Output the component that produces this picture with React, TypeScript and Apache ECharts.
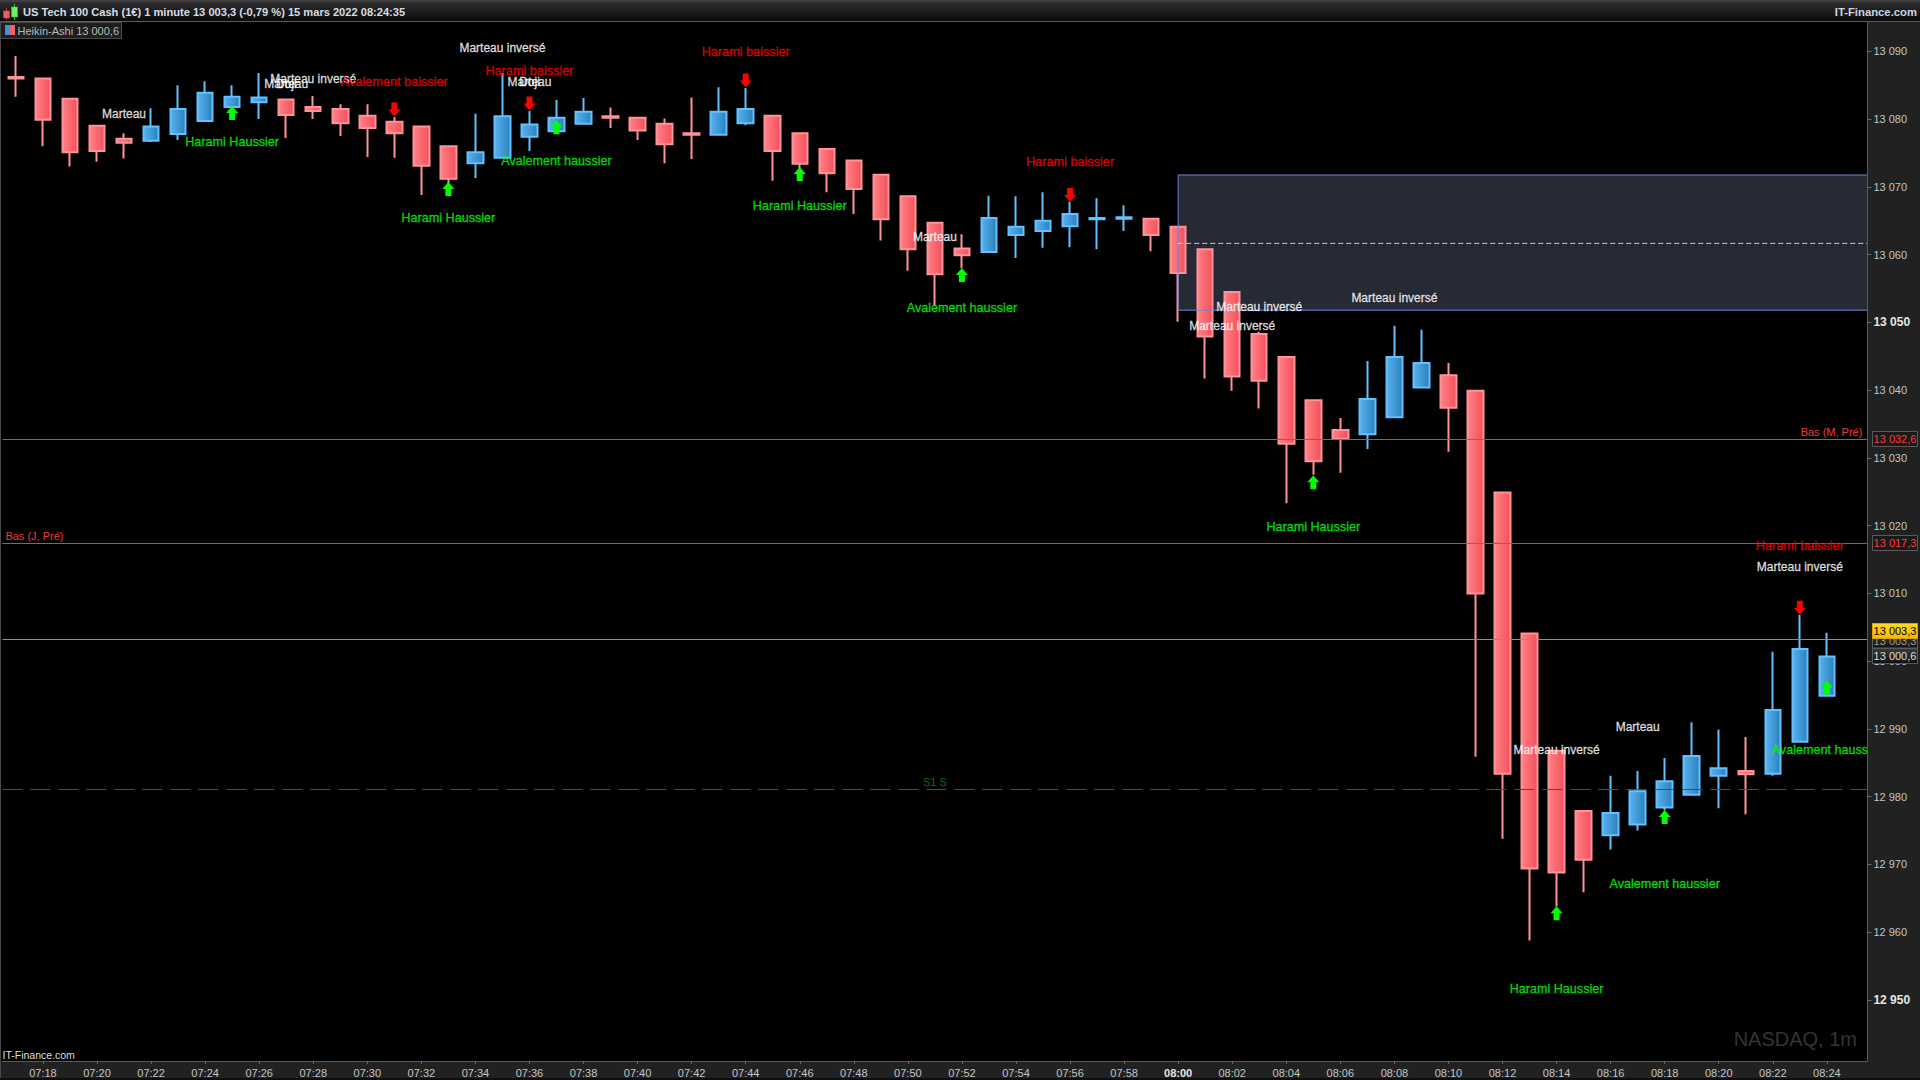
import React, { useEffect, useRef } from "react";
import * as echarts from "echarts";

const times = [
  "07:17","07:18","07:19","07:20","07:21","07:22","07:23","07:24","07:25","07:26","07:27","07:28","07:29","07:30","07:31","07:32","07:33",
  "07:34","07:35","07:36","07:37","07:38","07:39","07:40","07:41","07:42","07:43","07:44","07:45","07:46","07:47","07:48","07:49","07:50",
  "07:51","07:52","07:53","07:54","07:55","07:56","07:57","07:58","07:59","08:00","08:01","08:02","08:03","08:04","08:05","08:06","08:07",
  "08:08","08:09","08:10","08:11","08:12","08:13","08:14","08:15","08:16","08:17","08:18","08:19","08:20","08:21","08:22","08:23","08:24","08:25",
];
const opens = [
  13086.2,13086.0,13083.0,13079.0,13077.1,13076.8,13077.8,13079.7,13081.8,13082.5,13082.9,13081.8,13081.5,13080.5,13079.6,13078.9,13076.0,
  13073.5,13074.3,13077.4,13078.2,13079.3,13080.4,13080.2,13079.3,13077.9,13077.7,13079.4,13080.5,13077.9,13075.6,13073.9,13071.8,13068.6,
  13064.7,13060.9,13060.4,13062.9,13063.5,13064.2,13065.2,13065.3,13065.3,13064.1,13060.8,13054.5,13048.3,13044.9,13038.5,13034.1,13033.5,
  13036.0,13040.4,13042.2,13039.9,13024.9,13004.1,12986.8,12977.9,12974.3,12975.9,12978.4,12980.3,12983.1,12983.8,12983.4,12988.1,12994.9,
];
const closes = [
  13086.0,13079.9,13075.1,13075.3,13076.5,13078.9,13081.5,13083.9,13083.3,13083.2,13080.6,13081.2,13079.4,13078.7,13077.9,13073.1,13071.2,
  13075.1,13080.4,13079.2,13080.2,13081.1,13080.2,13078.3,13076.3,13077.7,13081.1,13081.5,13075.3,13073.4,13072.0,13069.7,13065.2,13060.8,
  13057.1,13059.9,13065.4,13064.1,13065.0,13066.0,13065.4,13065.5,13062.9,13057.3,13047.9,13042.0,13041.4,13032.1,13029.5,13032.8,13038.7,
  13044.9,13044.0,13037.4,13010.0,12983.4,12969.4,12968.8,12970.7,12977.6,12980.8,12982.3,12986.0,12984.2,12983.3,12992.8,13001.8,13000.7,
];
const lows = [
  13083.3,13076.0,13073.0,13073.7,13074.2,13076.6,13076.9,13079.7,13081.0,13080.0,13077.2,13080.0,13077.5,13074.4,13074.3,13068.8,13070.4,
  13071.3,13074.3,13075.3,13078.0,13079.3,13078.7,13076.9,13073.5,13074.1,13077.7,13079.1,13070.9,13072.7,13069.2,13066.0,13062.1,13057.6,
  13052.5,13058.0,13060.4,13059.5,13061.0,13061.1,13060.8,13063.5,13060.5,13050.1,13041.7,13039.9,13037.3,13023.3,13027.5,13027.8,13031.3,
  13036.0,13040.4,13030.9,12985.9,12973.8,12958.8,12963.8,12965.9,12972.2,12975.0,12978.0,12980.3,12978.3,12977.4,12983.1,12988.1,12994.9,
];
const highs = [
  13089.3,13086.0,13083.0,13079.0,13077.9,13081.6,13085.0,13085.6,13085.0,13086.8,13082.9,13083.4,13082.2,13082.2,13080.3,13078.9,13076.0,
  13080.8,13086.8,13081.2,13082.8,13083.1,13081.7,13080.2,13080.1,13083.2,13084.7,13084.6,13080.5,13077.9,13075.6,13073.9,13071.8,13068.6,
  13064.7,13063.0,13068.7,13068.6,13069.2,13067.8,13068.3,13067.3,13065.3,13064.1,13060.8,13054.5,13048.6,13044.9,13038.5,13035.9,13044.3,
  13049.5,13048.9,13044.0,13039.9,13024.9,13004.1,12986.8,12977.9,12983.1,12983.8,12985.7,12991.0,12989.9,12988.8,13001.4,13006.8,13004.2,
];

const yTicks = [13090,13080,13070,13060,13050,13040,13030,13020,13010,13000,12990,12980,12970,12960,12950];
const yBoldTicks = [13050, 12950];

const whiteNotes: [number, number, string][] = [
  [4, 13080.85, "Marteau"],
  [18, 13090.6, "Marteau inversé"],
  [10, 13085.3, "Marteau"],
  [10, 13085.3, "Doji"],
  [11, 13086.0, "Marteau inversé"],
  [19, 13085.6, "Marteau"],
  [19, 13085.6, "Doji"],
  [34, 13062.7, "Marteau"],
  [46, 13052.4, "Marteau inversé"],
  [45, 13049.6, "Marteau inversé"],
  [51, 13053.8, "Marteau inversé"],
  [57, 12987.0, "Marteau inversé"],
  [60, 12990.5, "Marteau"],
  [66, 13014.0, "Marteau inversé"],
];
const redNotes: [number, number, string][] = [
  [14, 13085.6, "Avalement baissier"],
  [19, 13087.2, "Harami baissier"],
  [27, 13090.0, "Harami baissier"],
  [39, 13073.8, "Harami baissier"],
  [66, 13017.1, "Harami baissier"],
];
const greenNotes: [number, number, string][] = [
  [8, 13076.7, "Harami Haussier"],
  [16, 13065.5, "Harami Haussier"],
  [20, 13074.0, "Avalement haussier"],
  [29, 13067.3, "Harami Haussier"],
  [35, 13052.3, "Avalement haussier"],
  [48, 13019.9, "Harami Haussier"],
  [57, 12951.7, "Harami Haussier"],
  [61, 12967.2, "Avalement haussier"],
  [67, 12987.0, "Avalement haussier"],
];
const upArrows = [
  [8, 13080.9],[16, 13069.7],[20, 13078.8],[29, 13071.9],[35, 13057.0],[48, 13026.4],[57, 12962.8],[61, 12977.0],[67, 12996.1],
];
const downArrows = [
  [14, 13081.4],[19, 13082.3],[27, 13085.7],[39, 13068.8],[66, 13007.9],
];
const zone = [[43, 13071.75, 13051.8, 13061.66]];
const levelLowMonth = 13032.7;
const levelLowDay = 13017.4;
const levelLast = 13003.3;
const levelS1 = 12981.1;

const FONT = '"Liberation Sans", Arial, sans-serif';
const UP_PATH = "path://M6 0 L12 7 L9 7 L9 14 L3 14 L3 7 L0 7 Z";
const DOWN_PATH = "path://M3 0 L9 0 L9 7 L12 7 L6 14 L0 7 L3 7 Z";

function noteSeries(notes: [number, number, string][], color: string, size: number) {
  return {
    type: "scatter",
    z: 4,
    symbolSize: 1,
    silent: true,
    itemStyle: { color: "transparent" },
    data: notes.map((n) => ({
      value: [n[0], n[1]],
      label: {
        show: true,
        position: "inside",
        offset: [0, 1],
        formatter: n[2],
        color,
        fontFamily: FONT,
        fontSize: size,
        align: "center",
        verticalAlign: "middle",
        textBorderColor: color,
        textBorderWidth: 0.3,
      },
    })),
  };
}

function arrowSeries(points: number[][], symbol: string, color: string) {
  return {
    type: "scatter",
    z: 3,
    symbol,
    symbolSize: [12, 14],
    silent: true,
    itemStyle: { color, opacity: 1 },
    data: points,
  };
}

function tag(y: number, h: number, label: string, fill: any, color: string, stroke: string, z: number) {
  return [
    { type: "rect", z, shape: { x: 1872.5, y, width: 45, height: h }, style: { fill, stroke, lineWidth: 1 } },
    {
      type: "text",
      z: z + 1,
      x: 1895,
      y: y + h / 2,
      style: { text: label, fill: color, font: `11px ${FONT}`, textAlign: "center", textVerticalAlign: "middle" },
    },
  ];
}

export default function App() {
  const ref = useRef<HTMLDivElement>(null);
  useEffect(() => {
    document.body.style.margin = "0";
    document.body.style.background = "#000";
    document.body.style.overflow = "hidden";
    const chart = echarts.init(ref.current!, null, { renderer: "svg" });
    const LG = echarts.graphic.LinearGradient;
    const redFill = new LG(0, 0, 1, 0, [
      { offset: 0, color: "#ff8086" },
      { offset: 1, color: "#f5505a" },
    ]);
    const blueFill = new LG(0, 0, 1, 0, [
      { offset: 0, color: "#58b2ef" },
      { offset: 1, color: "#2a80bd" },
    ]);
    const darkTag = new LG(0, 0, 0, 1, [
      { offset: 0, color: "#3a3a3a" },
      { offset: 1, color: "#111111" },
    ]);
    const yellowTag = new LG(0, 0, 0, 1, [
      { offset: 0, color: "#ffd92a" },
      { offset: 1, color: "#f5b800" },
    ]);
    const topBar = new LG(0, 0, 0, 1, [
      { offset: 0, color: "#454545" },
      { offset: 0.15, color: "#2c2c2c" },
      { offset: 1, color: "#0a0a0a" },
    ]);
    const isLabelled = (i: number) => i % 2 === 1;
    const option: any = {
      animation: false,
      backgroundColor: "#000000",
      grid: { left: 2.4, top: 21.5, width: 1865, height: 1039.5, containLabel: false },
      xAxis: {
        type: "category",
        data: times,
        z: 10,
        boundaryGap: true,
        axisLine: { lineStyle: { color: "#5a5a5a", width: 1 } },
        axisTick: { show: true, length: 3, alignWithLabel: true, interval: isLabelled, lineStyle: { color: "#6a6a6a" } },
        axisLabel: {
          interval: isLabelled,
          margin: 6,
          fontFamily: FONT,
          fontSize: 11,
          color: "#c4c4c4",
          formatter: (v: string) => (v === "08:00" ? `{b|${v}}` : v),
          rich: { b: { fontFamily: FONT, fontSize: 11, fontWeight: "bold", color: "#e6e6e6" } },
        },
        splitLine: { show: false },
      },
      yAxis: {
        type: "value",
        position: "right",
        min: 12941.0,
        max: 13094.4,
        z: 10,
        scale: true,
        axisLine: { show: true, lineStyle: { color: "#5a5a5a", width: 1 } },
        axisTick: { show: true, length: 4, customValues: yTicks, lineStyle: { color: "#6a6a6a" } },
        axisLabel: {
          customValues: yTicks,
          margin: 6,
          fontFamily: FONT,
          fontSize: 11,
          color: "#c4c4c4",
          formatter: (v: number) => {
            const s = String(Math.round(v));
            const t = s.slice(0, 2) + " " + s.slice(2);
            return yBoldTicks.includes(Math.round(v)) ? `{b|${t}}` : t;
          },
          rich: { b: { fontFamily: FONT, fontSize: 12, fontWeight: "bold", color: "#e6e6e6" } },
        },
        splitLine: { show: false },
      },
      series: [
        {
          type: "custom",
          z: 1,
          silent: true,
          encode: { x: 0, y: 1 },
          data: zone,
          renderItem: (params: any, api: any) => {
            const a = api.coord([api.value(0), api.value(1)]);
            const b = api.coord([api.value(0), api.value(2)]);
            const right = params.coordSys.x + params.coordSys.width;
            return {
              type: "rect",
              shape: { x: a[0], y: a[1], width: right - a[0], height: b[1] - a[1] },
              style: { fill: "#252a35" },
            };
          },
        },
        {
          type: "candlestick",
          z: 2,
          silent: true,
          barWidth: 16,
          data: opens.map((o, i) => [o, closes[i], lows[i], highs[i]]),
          itemStyle: {
            color: blueFill,
            color0: redFill,
            borderColor: "#62c1ff",
            borderColor0: "#ff939a",
            borderWidth: 2,
          },
          markLine: {
            silent: true,
            symbol: "none",
            animation: false,
            z: 4,
            data: [
              {
                yAxis: levelLowMonth,
                lineStyle: { color: "#e83c3c", width: 1, type: "solid" },
                label: { show: true, formatter: "Bas (M, Pré)", position: "insideEndTop", distance: [5, 2], color: "#f03c3c", fontFamily: FONT, fontSize: 11 },
              },
              {
                yAxis: levelLowDay,
                lineStyle: { color: "#e83c3c", width: 1, type: "solid" },
                label: { show: true, formatter: "Bas (J, Pré)", position: "insideStartTop", distance: [3, 2], color: "#f03c3c", fontFamily: FONT, fontSize: 11 },
              },
              {
                yAxis: levelLast,
                lineStyle: { color: "#8f8f8f", width: 1, type: "solid" },
                label: { show: false },
              },
              {
                yAxis: levelS1,
                lineStyle: { color: "#0e7a0e", width: 1, type: [20, 8] },
                label: { show: true, formatter: "S1 S", position: "insideMiddleTop", distance: 2, color: "#0f6a0f", fontFamily: FONT, fontSize: 11 },
              },
            ],
          },
        },
        {
          type: "custom",
          z: 3,
          silent: true,
          encode: { x: 0, y: 1 },
          data: zone,
          renderItem: (params: any, api: any) => {
            const a = api.coord([api.value(0), api.value(1)]);
            const b = api.coord([api.value(0), api.value(2)]);
            const m = api.coord([api.value(0), api.value(3)]);
            const right = params.coordSys.x + params.coordSys.width;
            return {
              type: "group",
              children: [
                {
                  type: "polyline",
                  shape: { points: [[right, a[1]], [a[0], a[1]], [a[0], b[1]], [right, b[1]]] },
                  style: { fill: "none", stroke: "#6f86d8", lineWidth: 1 },
                },
                {
                  type: "line",
                  shape: { x1: a[0], y1: m[1], x2: right, y2: m[1] },
                  style: { stroke: "#c9cdf0", lineWidth: 1, lineDash: [5, 3] },
                },
              ],
            };
          },
        },
        arrowSeries(upArrows, UP_PATH, "#00ff00"),
        arrowSeries(downArrows, DOWN_PATH, "#ff0000"),
        noteSeries(whiteNotes, "#ffffff", 12),
        noteSeries(redNotes, "#ff0000", 12.7),
        noteSeries(greenNotes, "#00ff00", 12.6),
      ],
      graphic: {
        elements: [
          { type: "rect", z: 5, shape: { x: 1868, y: 22, width: 52, height: 1058 }, style: { fill: "#212121" } },
          { type: "rect", z: 5, shape: { x: 0, y: 1062, width: 1868, height: 16 }, style: { fill: "#212121" } },
          { type: "rect", z: 6, shape: { x: 0, y: 1078, width: 1920, height: 2 }, style: { fill: "#0d0d0d" } },
          { type: "rect", z: 6, shape: { x: 0, y: 22, width: 1, height: 1056 }, style: { fill: "#4a4a4a" } },
          { type: "rect", z: 6, shape: { x: 0, y: 0, width: 1920, height: 21 }, style: { fill: topBar } },
          { type: "rect", z: 6, shape: { x: 0, y: 21, width: 1920, height: 1 }, style: { fill: "#5a5a5a" } },
          // title icon
          { type: "rect", z: 7, shape: { x: 6, y: 8, width: 1, height: 12 }, style: { fill: "#c03030" } },
          { type: "rect", z: 7, shape: { x: 3.5, y: 11, width: 6, height: 7 }, style: { fill: "#e86060", stroke: "#ff3030", lineWidth: 0.5 } },
          { type: "rect", z: 7, shape: { x: 14, y: 4, width: 1, height: 16 }, style: { fill: "#30c030" } },
          { type: "rect", z: 7, shape: { x: 11.5, y: 7, width: 6, height: 10 }, style: { fill: "#70f060", stroke: "#30d030", lineWidth: 0.5 } },
          {
            type: "text", z: 7, x: 23, y: 12,
            style: { text: "US Tech 100 Cash (1€) 1 minute 13 003,3 (-0,79 %) 15 mars 2022 08:24:35", fill: "#d6dce2", font: `bold 11.1px ${FONT}`, textAlign: "left", textVerticalAlign: "middle" },
          },
          {
            type: "text", z: 7, x: 1917, y: 12,
            style: { text: "IT-Finance.com", fill: "#c9d6e2", font: `bold 11.3px ${FONT}`, textAlign: "right", textVerticalAlign: "middle" },
          },
          // series legend box
          { type: "rect", z: 7, shape: { x: 0.5, y: 22.5, width: 121, height: 16 }, style: { fill: "#1e1e1e", stroke: "#4a4a4a", lineWidth: 1 } },
          { type: "rect", z: 8, shape: { x: 5, y: 25, width: 5, height: 10 }, style: { fill: "#3f93d3" } },
          { type: "rect", z: 8, shape: { x: 10, y: 25, width: 5, height: 10 }, style: { fill: "#f4606a" } },
          {
            type: "text", z: 8, x: 17.5, y: 30.5,
            style: { text: "Heikin-Ashi 13 000,6", fill: "#b8b8b8", font: `11px ${FONT}`, textAlign: "left", textVerticalAlign: "middle" },
          },
          {
            type: "text", z: 6, x: 2.5, y: 1055,
            style: { text: "IT-Finance.com", fill: "#dddddd", font: `10.5px ${FONT}`, textAlign: "left", textVerticalAlign: "middle" },
          },
          {
            type: "text", z: 6, x: 1857, y: 1039,
            style: { text: "NASDAQ, 1m", fill: "#343434", font: `20px ${FONT}`, textAlign: "right", textVerticalAlign: "middle" },
          },
          ...tag(431.5, 15, "13 032,6", "#1a1a1a", "#ff3a3a", "#5a5a5a", 12),
          ...tag(535.5, 15, "13 017,3", "#1a1a1a", "#ff3a3a", "#5a5a5a", 12),
          ...tag(633, 15, "13 003,3", darkTag, "#9a9a9a", "#5a5a5a", 12),
          ...tag(623.5, 15, "13 003,3", yellowTag, "#000000", "#d8a800", 14),
          ...tag(648.5, 15, "13 000,6", darkTag, "#dcdcdc", "#5a5a5a", 12),
        ],
      },
    };
    chart.setOption(option);
    return () => chart.dispose();
  }, []);
  return <div ref={ref} style={{ width: 1920, height: 1080, background: "#000" }} />;
}
